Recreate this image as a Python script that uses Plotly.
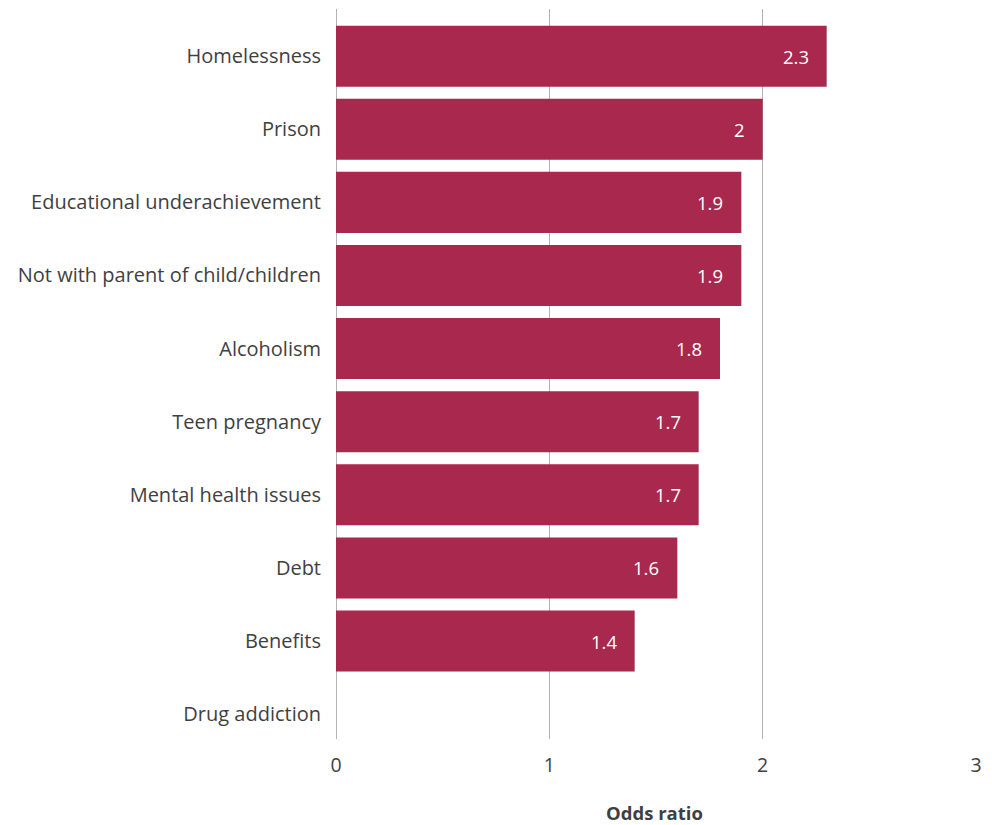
import plotly.graph_objects as go

categories = [
    "Homelessness",
    "Prison",
    "Educational underachievement",
    "Not with parent of child/children",
    "Alcoholism",
    "Teen pregnancy",
    "Mental health issues",
    "Debt",
    "Benefits",
    "Drug addiction",
]
odds_ratios = [2.3, 2, 1.9, 1.9, 1.8, 1.7, 1.7, 1.6, 1.4, None]
x_ticks = [0, 1, 2, 3]

BAR_COLOR = "#A9284D"
TEXT_COLOR = "#3f3f3f"
GRID_COLOR = "#b3b3b3"
FONT = "Open Sans"
FS = 19.5

fig = go.Figure(
    go.Bar(
        y=categories,
        x=odds_ratios,
        orientation="h",
        marker=dict(color=BAR_COLOR, line=dict(width=0)),
        hoverinfo="x+y",
    )
)

# value labels sitting inside the right end of each bar
for cat, val in zip(categories, odds_ratios):
    if val is None:
        continue
    fig.add_annotation(
        x=val, y=cat, xref="x", yref="y",
        text=f"{val:g}", showarrow=False,
        xanchor="right", xshift=-16,
        font=dict(family=FONT, size=FS - 1, color="white"),
    )

# x-axis title placed below the tick labels
fig.add_annotation(
    x=0.498, y=0, xref="paper", yref="paper",
    text="<b>Odds ratio</b>", showarrow=False,
    xanchor="center", yanchor="middle", yshift=-73,
    font=dict(family=FONT, size=FS - 1, color=TEXT_COLOR),
)

fig.update_layout(
    width=992, height=825,
    margin=dict(l=336, r=16, t=9, b=86, autoexpand=False),
    paper_bgcolor="white", plot_bgcolor="white",
    bargap=0.165,
    showlegend=False,
    font=dict(family=FONT, size=FS, color=TEXT_COLOR),
)
fig.update_xaxes(
    range=[0, 3],
    tickvals=x_ticks,
    showgrid=True, gridcolor=GRID_COLOR, gridwidth=1,
    zeroline=True, zerolinecolor=GRID_COLOR, zerolinewidth=1,
    showline=False, ticks="",
    ticklabelstandoff=12,
    tickfont=dict(family=FONT, size=FS, color=TEXT_COLOR),
    automargin=False,
    fixedrange=True,
)
# category bands sit slightly lower than the vertical extent of the gridlines
fig.update_yaxes(
    categoryorder="array", categoryarray=categories,
    range=[9.34, -0.645],
    showgrid=False, showline=False, ticks="",
    ticklabelstandoff=14,
    tickfont=dict(family=FONT, size=20, color=TEXT_COLOR),
    automargin=False,
    fixedrange=True,
)

fig.write_html("out.html")
